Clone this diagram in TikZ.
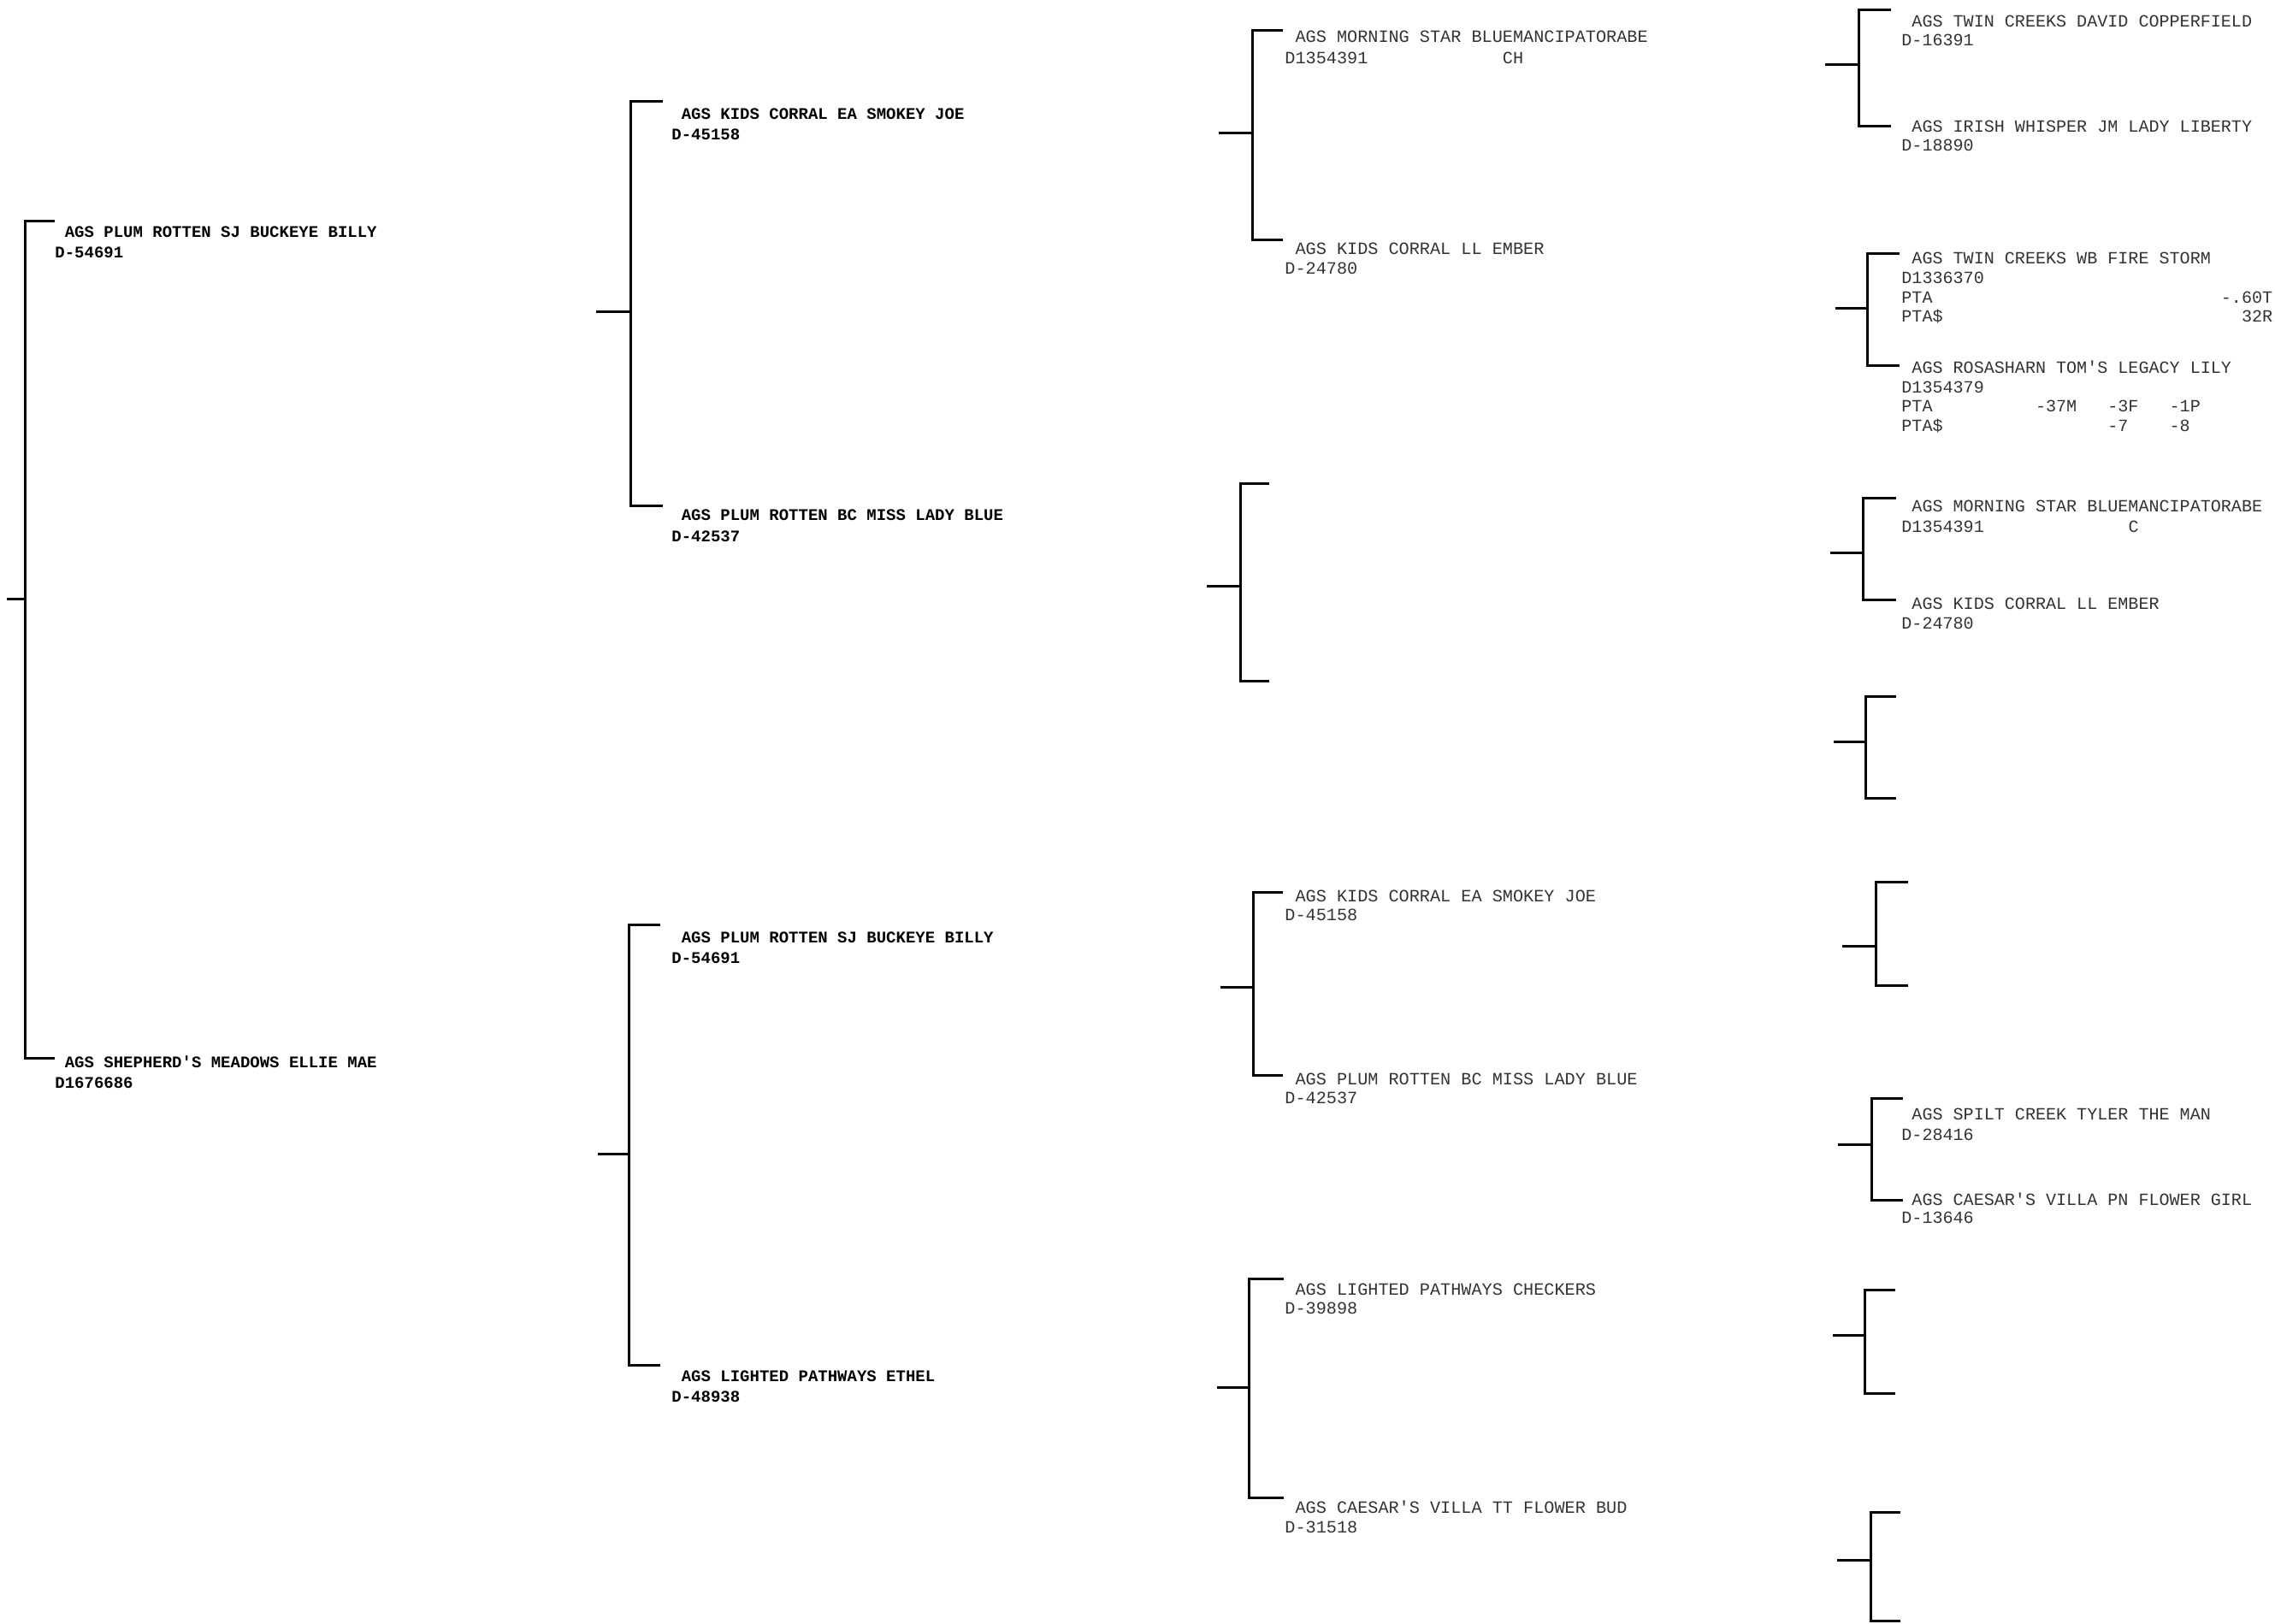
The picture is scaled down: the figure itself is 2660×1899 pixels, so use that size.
\documentclass[tikz,border=0pt]{standalone}
\usepackage{fontspec}
\setmonofont{Liberation Mono}
\newcommand\colgap[1]{\hspace*{\fpeval{0.6*#1}em}}

\begin{document}
\begin{tikzpicture}[x=0.5pt,y=0.5pt,yscale=-1,xscale=1,
  brk/.style={line width=1.5pt},
  gen1/.style={anchor=base west,inner sep=0pt,font=\ttfamily\bfseries\fontsize{9.5}{12}\selectfont},
  gen2/.style={anchor=base west,inner sep=0pt,font=\ttfamily\bfseries\fontsize{9.5}{12}\selectfont},
  gen3/.style={anchor=base west,inner sep=0pt,text=black!80,font=\ttfamily\fontsize{10.1}{12}\selectfont},
  gen4/.style={anchor=base west,inner sep=0pt,text=black!80,font=\ttfamily\fontsize{10.04}{12}\selectfont}]
\useasboundingbox (0,0) rectangle (2660,1899);

%Bracket: generation 1
\coordinate (r0) at (8,700);
\coordinate (r0t) at (29,259);
\coordinate (r0b) at (29,1237);
\draw[brk] (r0) -- (r0 -| r0t);
\draw[brk] (r0t) ++(35,0) -- (r0t) -- (r0b) -- ++(35,0);

%Bracket: generation 2
\coordinate (f1) at (697,365);
\coordinate (f1t) at (737,119);
\coordinate (f1b) at (737,591);
\draw[brk] (f1) -- (f1 -| f1t);
\draw[brk] (f1t) ++(38,0) -- (f1t) -- (f1b) -- ++(38,0);
\coordinate (f2) at (699,1349);
\coordinate (f2t) at (735,1081);
\coordinate (f2b) at (735,1596);
\draw[brk] (f2) -- (f2 -| f2t);
\draw[brk] (f2t) ++(37,0) -- (f2t) -- (f2b) -- ++(37,0);

%Bracket: generation 3
\coordinate (g1) at (1425,156);
\coordinate (g1t) at (1464,36);
\coordinate (g1b) at (1464,281);
\draw[brk] (g1) -- (g1 -| g1t);
\draw[brk] (g1t) ++(36,0) -- (g1t) -- (g1b) -- ++(36,0);
\coordinate (g2) at (1411,685);
\coordinate (g2t) at (1450,565);
\coordinate (g2b) at (1450,796);
\draw[brk] (g2) -- (g2 -| g2t);
\draw[brk] (g2t) ++(34,0) -- (g2t) -- (g2b) -- ++(34,0);
\coordinate (g3) at (1427,1154);
\coordinate (g3t) at (1465,1043);
\coordinate (g3b) at (1465,1257);
\draw[brk] (g3) -- (g3 -| g3t);
\draw[brk] (g3t) ++(35,0) -- (g3t) -- (g3b) -- ++(35,0);
\coordinate (g4) at (1423,1622);
\coordinate (g4t) at (1460,1495);
\coordinate (g4b) at (1460,1751);
\draw[brk] (g4) -- (g4 -| g4t);
\draw[brk] (g4t) ++(41,0) -- (g4t) -- (g4b) -- ++(41,0);

%Bracket: generation 4
\coordinate (h1) at (2134,76);
\coordinate (h1t) at (2173,12);
\coordinate (h1b) at (2173,148);
\draw[brk] (h1) -- (h1 -| h1t);
\draw[brk] (h1t) ++(38,0) -- (h1t) -- (h1b) -- ++(38,0);
\coordinate (h2) at (2146,361);
\coordinate (h2t) at (2183,297);
\coordinate (h2b) at (2183,428);
\draw[brk] (h2) -- (h2 -| h2t);
\draw[brk] (h2t) ++(38,0) -- (h2t) -- (h2b) -- ++(38,0);
\coordinate (h3) at (2140,646);
\coordinate (h3t) at (2178,582);
\coordinate (h3b) at (2178,701);
\draw[brk] (h3) -- (h3 -| h3t);
\draw[brk] (h3t) ++(39,0) -- (h3t) -- (h3b) -- ++(39,0);
\coordinate (h4) at (2144,867);
\coordinate (h4t) at (2181,814);
\coordinate (h4b) at (2181,933);
\draw[brk] (h4) -- (h4 -| h4t);
\draw[brk] (h4t) ++(36,0) -- (h4t) -- (h4b) -- ++(36,0);
\coordinate (h5) at (2154,1106);
\coordinate (h5t) at (2193,1031);
\coordinate (h5b) at (2193,1152);
\draw[brk] (h5) -- (h5 -| h5t);
\draw[brk] (h5t) ++(38,0) -- (h5t) -- (h5b) -- ++(38,0);
\coordinate (h6) at (2149,1338);
\coordinate (h6t) at (2188,1284);
\coordinate (h6b) at (2188,1403);
\draw[brk] (h6) -- (h6 -| h6t);
\draw[brk] (h6t) ++(37,0) -- (h6t) -- (h6b) -- ++(37,0);
\coordinate (h7) at (2143,1561);
\coordinate (h7t) at (2180,1508);
\coordinate (h7b) at (2180,1629);
\draw[brk] (h7) -- (h7 -| h7t);
\draw[brk] (h7t) ++(36,0) -- (h7t) -- (h7b) -- ++(36,0);
\coordinate (h8) at (2148,1824);
\coordinate (h8t) at (2187,1768);
\coordinate (h8b) at (2187,1895);
\draw[brk] (h8) -- (h8 -| h8t);
\draw[brk] (h8t) ++(35,0) -- (h8t) -- (h8b) -- ++(35,0);

% Text Node: generation 1
\node[gen1] (a1) at (64,278) {~AGS PLUM ROTTEN SJ BUCKEYE BILLY};
\node[gen1] (a1id) at (64,302) {D-54691};
\node[gen1] (a2) at (64,1248) {~AGS SHEPHERD'S MEADOWS ELLIE MAE};
\node[gen1] (a2id) at (64,1272) {D1676686};

% Text Node: generation 2
\node[gen2] (b1) at (785,140) {~AGS KIDS CORRAL EA SMOKEY JOE};
\node[gen2] (b1id) at (785,164) {D-45158};
\node[gen2] (b2) at (785,608) {~AGS PLUM ROTTEN BC MISS LADY BLUE};
\node[gen2] (b2id) at (785,633) {D-42537};
\node[gen2] (b3) at (785,1102) {~AGS PLUM ROTTEN SJ BUCKEYE BILLY};
\node[gen2] (b3id) at (785,1126) {D-54691};
\node[gen2] (b4) at (785,1615) {~AGS LIGHTED PATHWAYS ETHEL};
\node[gen2] (b4id) at (785,1639) {D-48938};

% Text Node: generation 3
\node[gen3] (c1) at (1502,50) {~AGS MORNING STAR BLUEMANCIPATORABE};
\node[gen3] (c1id) at (1502,75) {D1354391\colgap{13}CH};
\node[gen3] (c2) at (1502,298) {~AGS KIDS CORRAL LL EMBER};
\node[gen3] (c2id) at (1502,321) {D-24780};
\node[gen3] (c5) at (1502,1054) {~AGS KIDS CORRAL EA SMOKEY JOE};
\node[gen3] (c5id) at (1502,1076) {D-45158};
\node[gen3] (c6) at (1502,1268) {~AGS PLUM ROTTEN BC MISS LADY BLUE};
\node[gen3] (c6id) at (1502,1290) {D-42537};
\node[gen3] (c7) at (1502,1514) {~AGS LIGHTED PATHWAYS CHECKERS};
\node[gen3] (c7id) at (1502,1536) {D-39898};
\node[gen3] (c8) at (1502,1769) {~AGS CAESAR'S VILLA TT FLOWER BUD};
\node[gen3] (c8id) at (1502,1792) {D-31518};

% Text Node: generation 4
\node[gen4] (d1) at (2223,32) {~AGS TWIN CREEKS DAVID COPPERFIELD};
\node[gen4] (d1id) at (2223,54) {D-16391};
\node[gen4] (d2) at (2223,155) {~AGS IRISH WHISPER JM LADY LIBERTY};
\node[gen4] (d2id) at (2223,177) {D-18890};
\node[gen4] (d3) at (2223,309) {~AGS TWIN CREEKS WB FIRE STORM};
\node[gen4] (d3id) at (2223,332) {D1336370};
\node[gen4] (d3pta) at (2223,355) {PTA\colgap{28}-.60T};
\node[gen4] (d3ptd) at (2223,377) {PTA\$\colgap{29}32R};
\node[gen4] (d4) at (2223,437) {~AGS ROSASHARN TOM'S LEGACY LILY};
\node[gen4] (d4id) at (2223,459) {D1354379};
\node[gen4] (d4pta) at (2223,481) {PTA\colgap{10}-37M\colgap{3}-3F\colgap{3}-1P};
\node[gen4] (d4ptd) at (2223,504) {PTA\$\colgap{16}-7\colgap{4}-8};
\node[gen4] (d5) at (2223,598) {~AGS MORNING STAR BLUEMANCIPATORABE};
\node[gen4] (d5id) at (2223,622) {D1354391\colgap{14}C};
\node[gen4] (d6) at (2223,712) {~AGS KIDS CORRAL LL EMBER};
\node[gen4] (d6id) at (2223,735) {D-24780};
\node[gen4] (d11) at (2223,1309) {~AGS SPILT CREEK TYLER THE MAN};
\node[gen4] (d11id) at (2223,1333) {D-28416};
\node[gen4] (d12) at (2223,1409) {~AGS CAESAR'S VILLA PN FLOWER GIRL};
\node[gen4] (d12id) at (2223,1430) {D-13646};

\end{tikzpicture}
\end{document}
